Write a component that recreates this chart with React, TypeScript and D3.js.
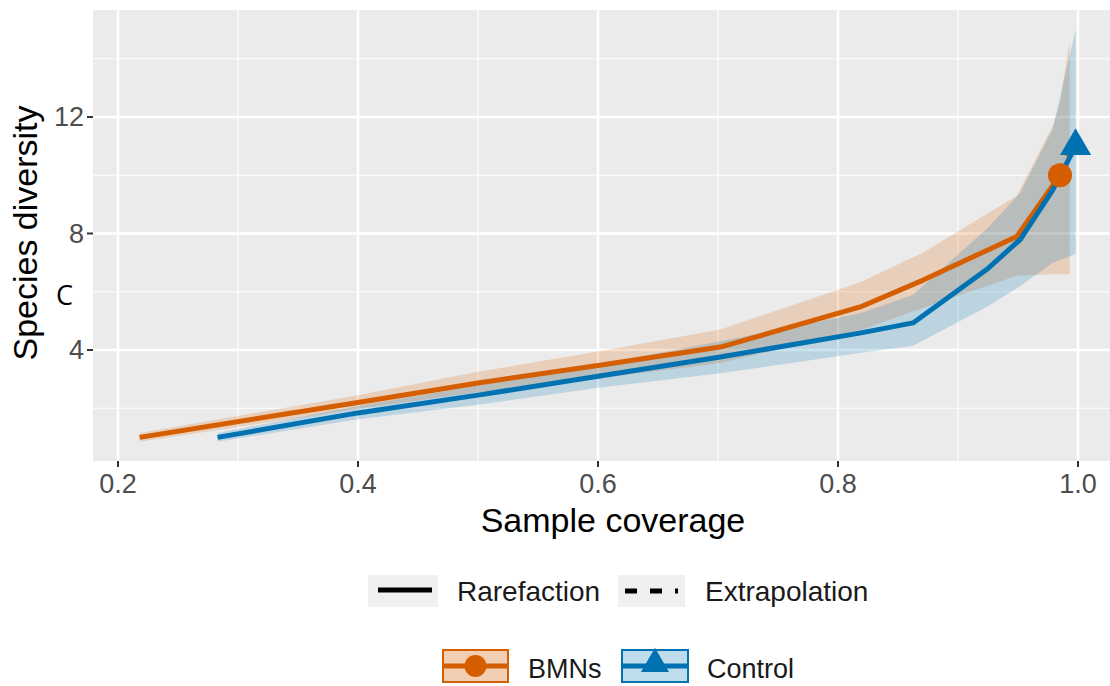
import React from 'react';
import * as d3 from 'd3';

// ---- data ----
const xTicks = [0.2, 0.4, 0.6, 0.8, 1.0];
const xMinor = [0.3, 0.5, 0.7, 0.9];
const yTicks = [4, 8, 12];
const yMinor = [2, 6, 10, 14];

// BMNs (rarefaction)
const bmnsX = [0.218, 0.4, 0.5, 0.6, 0.702, 0.82, 0.871, 0.949, 0.985];
const bmnsY = [1.0, 2.2, 2.87, 3.47, 4.1, 5.5, 6.4, 7.9, 10.0];
// BMNs (extrapolation)
const bmnsExtX = [0.985, 0.993];
const bmnsExtY = [10.0, 10.8];
// BMNs confidence band
const bmnsBandX = [0.218, 0.4, 0.5, 0.6, 0.702, 0.82, 0.871, 0.949, 0.979, 0.985, 0.993];
const bmnsLo = [0.85, 1.98, 2.55, 3.02, 3.55, 4.7, 5.45, 6.55, 6.6, 6.6, 6.6];
const bmnsHi = [1.15, 2.45, 3.25, 3.95, 4.7, 6.35, 7.35, 9.3, 11.7, 12.5, 14.6];

// Control (rarefaction)
const ctrlX = [0.283, 0.4, 0.5, 0.6, 0.702, 0.818, 0.8625, 0.925, 0.952, 0.979, 0.998];
const ctrlY = [1.0, 1.84, 2.45, 3.1, 3.76, 4.58, 4.93, 6.8, 7.8, 9.5, 11.0];
// Control (extrapolation)
const ctrlExtX = [0.998, 0.9995];
const ctrlExtY = [11.0, 11.3];
// Control confidence band
const ctrlBandX = [0.283, 0.4, 0.5, 0.6, 0.702, 0.818, 0.8625, 0.925, 0.952, 0.979, 0.998];
const ctrlLo = [0.85, 1.62, 2.12, 2.7, 3.2, 3.9, 4.15, 5.5, 6.2, 7.0, 7.3];
const ctrlHi = [1.15, 2.08, 2.78, 3.5, 4.3, 5.25, 5.9, 8.2, 9.4, 11.6, 15.0];

const observed = [
  { name: 'BMNs', x: 0.985, y: 10.0 },
  { name: 'Control', x: 0.998, y: 11.0 },
];

const ORANGE = '#D55E00';
const BLUE = '#0072B2';
const FONT = '"Liberation Sans", Arial, Helvetica, sans-serif';

const panel = { left: 93, top: 10, right: 1110, bottom: 461 };

export default function App() {
  const x = d3.scaleLinear().domain([0.2, 1.0]).range([118, 1078]);
  const y = d3.scaleLinear().domain([0, 12]).range([466.5, 117]);

  const line = (xs: number[], ys: number[]) =>
    d3.line<number>().x((_, i) => x(xs[i])).y((d) => y(d))(ys) || '';
  const area = (xs: number[], lo: number[], hi: number[]) =>
    d3
      .area<number>()
      .x((_, i) => x(xs[i]))
      .y0((_, i) => y(lo[i]))
      .y1((_, i) => y(hi[i]))(xs) || '';

  const tri = d3.symbol().type(d3.symbolTriangle).size(420)() || '';
  const triLeg = d3.symbol().type(d3.symbolTriangle).size(340)() || '';

  return (
    <svg
      width={1110}
      height={686}
      style={{ position: 'absolute', left: 0, top: 0, background: '#fff' }}
      fontFamily={FONT}
    >
      <defs>
        <clipPath id="panelClip">
          <rect x={panel.left} y={panel.top} width={panel.right - panel.left} height={panel.bottom - panel.top} />
        </clipPath>
      </defs>
      <rect x={panel.left} y={panel.top} width={panel.right - panel.left} height={panel.bottom - panel.top} fill="#EBEBEB" />
      {/* grid */}
      {xMinor.map((v) => (
        <line key={'xm' + v} x1={x(v)} x2={x(v)} y1={panel.top} y2={panel.bottom} stroke="#fff" strokeWidth={1.2} />
      ))}
      {yMinor.map((v) => (
        <line key={'ym' + v} x1={panel.left} x2={panel.right} y1={y(v)} y2={y(v)} stroke="#fff" strokeWidth={1.2} />
      ))}
      {xTicks.map((v) => (
        <line key={'xM' + v} x1={x(v)} x2={x(v)} y1={panel.top} y2={panel.bottom} stroke="#fff" strokeWidth={2.4} />
      ))}
      {yTicks.map((v) => (
        <line key={'yM' + v} x1={panel.left} x2={panel.right} y1={y(v)} y2={y(v)} stroke="#fff" strokeWidth={2.4} />
      ))}

      <g clipPath="url(#panelClip)">
        <path d={area(bmnsBandX, bmnsLo, bmnsHi)} fill={ORANGE} fillOpacity={0.2} />
        <path d={area(ctrlBandX, ctrlLo, ctrlHi)} fill={BLUE} fillOpacity={0.2} />
        <path d={line(bmnsX, bmnsY)} fill="none" stroke={ORANGE} strokeWidth={5} strokeLinejoin="round" />
        <path d={line(bmnsExtX, bmnsExtY)} fill="none" stroke={ORANGE} strokeWidth={5} strokeDasharray="12 8" />
        <path d={line(ctrlX, ctrlY)} fill="none" stroke={BLUE} strokeWidth={5} strokeLinejoin="round" />
        <path d={line(ctrlExtX, ctrlExtY)} fill="none" stroke={BLUE} strokeWidth={5} strokeDasharray="12 8" />
        <circle cx={x(observed[0].x)} cy={y(observed[0].y)} r={12} fill={ORANGE} />
        <path d={tri} transform={`translate(${x(observed[1].x)},${y(observed[1].y)})`} fill={BLUE} />
      </g>

      {/* axes ticks */}
      {xTicks.map((v) => (
        <g key={'xt' + v}>
          <line x1={x(v)} x2={x(v)} y1={panel.bottom} y2={panel.bottom + 6} stroke="#333" strokeWidth={2} />
          <text x={x(v)} y={493} textAnchor="middle" fontSize={27} fill="#4D4D4D">
            {d3.format('.1f')(v)}
          </text>
        </g>
      ))}
      {yTicks.map((v) => (
        <g key={'yt' + v}>
          <line x1={panel.left - 6} x2={panel.left} y1={y(v)} y2={y(v)} stroke="#333" strokeWidth={2} />
          <text x={84} y={y(v)} dy="0.35em" textAnchor="end" fontSize={27} fill="#4D4D4D">
            {v}
          </text>
        </g>
      ))}

      {/* axis titles */}
      <text x={613} y={532} textAnchor="middle" fontSize={34} fill="#000">
        Sample coverage
      </text>
      <text transform="translate(37,233) rotate(-90)" textAnchor="middle" fontSize={34} fill="#000">
        Species diversity
      </text>
      <text x={56} y={305} fontSize={27} fill="#000" fontFamily='"Open Sans", sans-serif'>
        C
      </text>

      {/* legend 1 */}
      <rect x={368} y={575} width={70} height={32} fill="#F0F0F0" />
      <line x1={378} x2={432} y1={590} y2={590} stroke="#000" strokeWidth={5} />
      <text x={457} y={601} fontSize={28} fill="#1a1a1a">Rarefaction</text>
      <rect x={618} y={575} width={67} height={32} fill="#F0F0F0" />
      <line x1={625} x2={680} y1={591} y2={591} stroke="#000" strokeWidth={5} strokeDasharray="12 13 12 13 3 100" />
      <text x={705} y={601} fontSize={28} fill="#1a1a1a">Extrapolation</text>

      {/* legend 2 */}
      <rect x={443} y={650} width={65} height={32} fill={ORANGE} fillOpacity={0.3} stroke={ORANGE} strokeWidth={2} />
      <line x1={444} x2={507} y1={666} y2={666} stroke={ORANGE} strokeWidth={5} />
      <circle cx={475.5} cy={666} r={11} fill={ORANGE} />
      <text x={528} y={678} fontSize={27} fill="#1a1a1a">BMNs</text>
      <rect x={622} y={650} width={66} height={32} fill={BLUE} fillOpacity={0.25} stroke={BLUE} strokeWidth={2} />
      <line x1={623} x2={687} y1={666} y2={666} stroke={BLUE} strokeWidth={5} />
      <path d={triLeg} transform="translate(655,664)" fill={BLUE} />
      <text x={707} y={678} fontSize={27} fill="#1a1a1a">Control</text>
    </svg>
  );
}
